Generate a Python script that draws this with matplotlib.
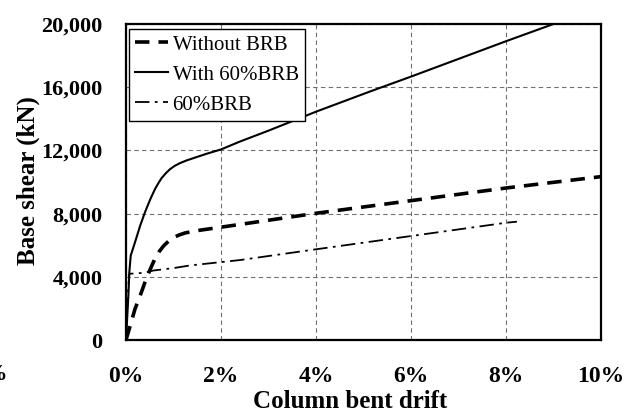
import matplotlib
matplotlib.use("Agg")
import matplotlib.pyplot as plt
from matplotlib.ticker import FuncFormatter

plt.rcParams['font.family'] = ['Liberation Serif', 'DejaVu Serif']

# Pushover curves: column bent drift (%) vs. base shear (kN)
drift_without = [0.0, 0.09, 0.19, 0.30, 0.40, 0.51, 0.61, 0.70, 0.79, 0.90, 1.0, 1.12, 1.25,
                 1.56, 2.0, 3.0, 4.0, 6.0, 8.0, 10.0]
shear_without = [0, 920, 1970, 2820, 3660, 4480, 5150, 5600, 5950, 6270, 6480, 6650, 6780,
                 6950, 7140, 7580, 8020, 8820, 9620, 10340]

drift_with = [0.0, 0.05, 0.07, 0.10, 0.19, 0.30, 0.40, 0.51, 0.61, 0.68, 0.75, 0.84, 0.93,
              1.03, 1.14, 1.28, 1.42, 1.70, 2.0, 2.39, 3.0, 4.0, 5.13, 6.0, 8.0, 9.0]
shear_with = [0, 2820, 4290, 5350, 6190, 7250, 8090, 8900, 9550, 9920, 10250, 10560, 10820,
              11030, 11200, 11370, 11510, 11790, 12060, 12550, 13250, 14450, 15720, 16670,
              18910, 20000]

drift_brb = [0.0, 0.03, 0.07, 0.37, 0.58, 1.0, 1.35, 2.0, 2.4, 4.0, 6.0, 8.0, 8.23]
shear_brb = [0, 2500, 4190, 4250, 4400, 4550, 4720, 4930, 5060, 5740, 6580, 7420, 7490]

labels = ['Without BRB', 'With 60%BRB', '60%BRB']
x_ticks = [0, 2, 4, 6, 8, 10]
y_ticks = [0, 4000, 8000, 12000, 16000, 20000]

fig = plt.figure(figsize=(6.38, 4.16), dpi=100)
ax = fig.add_axes([126 / 638, 76 / 416, 475 / 638, 316 / 416])

ax.plot(drift_without, shear_without, color='black', lw=2.6, ls=(0, (4, 2.5)), label=labels[0])
ax.plot(drift_with, shear_with, color='black', lw=1.5, ls='-', label=labels[1])
ax.plot(drift_brb, shear_brb, color='black', lw=1.3, ls=(0, (8, 3, 1.5, 3)), label=labels[2])

ax.set_xlim(0, 10)
ax.set_ylim(0, 20000)
ax.set_xticks(x_ticks)
ax.set_yticks(y_ticks)
ax.xaxis.set_major_formatter(FuncFormatter(lambda v, p: f'{v:.0f}%'))
ax.yaxis.set_major_formatter(FuncFormatter(lambda v, p: f'{v:,.0f}'))
ax.tick_params(length=0)
ax.tick_params(axis='x', labelsize=17, pad=19)
ax.tick_params(axis='y', labelsize=16, pad=17)
for lab in ax.get_xticklabels() + ax.get_yticklabels():
    lab.set_fontweight('bold')

ax.grid(True, color='#707070', lw=0.8, ls=(0, (4, 3)))
for s in ax.spines.values():
    s.set_linewidth(1.6)
    s.set_color('black')

fig.text(350 / 638, 1 - 401 / 416, 'Column bent drift', ha='center', va='center',
         fontsize=18, fontweight='bold')
fig.text(28 / 638, 1 - 181 / 416, 'Base shear (kN)', ha='center', va='center',
         rotation=90, fontsize=18, fontweight='bold')
# partial tick text at the left margin
fig.text(7 / 638, 1 - 375 / 416, '%', ha='right', va='center', fontsize=17, fontweight='bold')

leg = ax.legend(loc='upper left', bbox_to_anchor=(0.006, 0.985), fontsize=15,
                frameon=True, fancybox=False, edgecolor='black', framealpha=1,
                handlelength=1.6, handletextpad=0.2, labelspacing=0.5,
                borderpad=0.3, borderaxespad=0)
leg.get_frame().set_linewidth(1.0)

fig.savefig('out.png', dpi=100)
